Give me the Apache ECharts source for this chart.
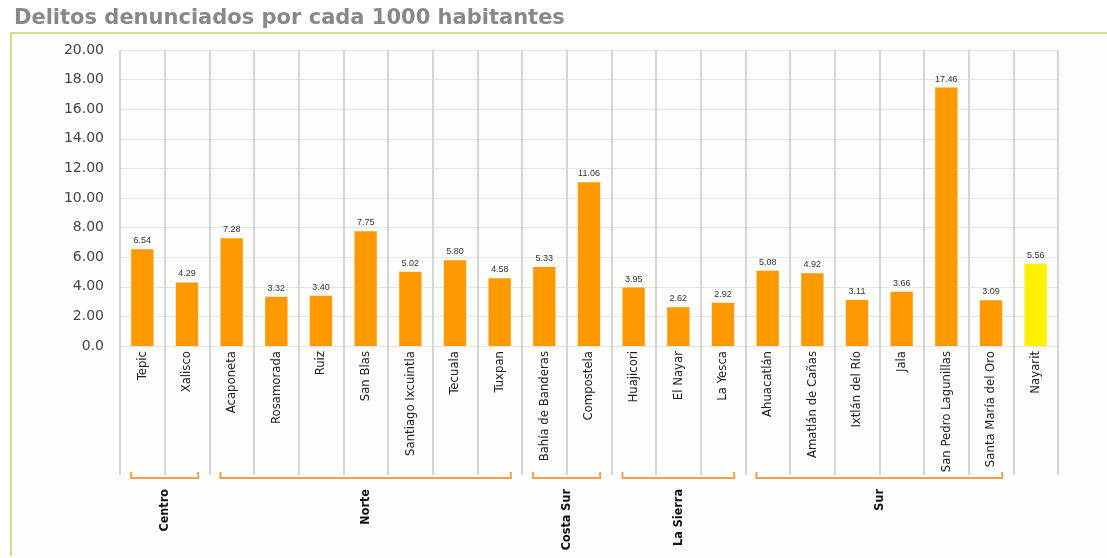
<!DOCTYPE html>
<html>
<head>
<meta charset="utf-8">
<script src="https://cdn.jsdelivr.net/npm/echarts@6/dist/echarts.min.js"></script>
<style>
html,body{margin:0;padding:0;background:#ffffff;}
#chart{width:1107px;height:558px;}
</style>
</head>
<body>
<div id="chart"></div>
<script>
const titleText = 'Delitos denunciados por cada 1000 habitantes';
const categories = ['Tepic','Xalisco','Acaponeta','Rosamorada','Ruiz','San Blas','Santiago Ixcuintla','Tecuala','Tuxpan','Bahía de Banderas','Compostela','Huajicori','El Nayar','La Yesca','Ahuacatlán','Amatlán de Cañas','Ixtlán del Río','Jala','San Pedro Lagunillas','Santa María del Oro','Nayarit'];
const values = [6.54,4.29,7.28,3.32,3.40,7.75,5.02,5.80,4.58,5.33,11.06,3.95,2.62,2.92,5.08,4.92,3.11,3.66,17.46,3.09,5.56];
const highlightCategory = 'Nayarit';
const groupNames = ['Centro','Norte','Costa Sur','La Sierra','Sur'];
const groupStart = [0,2,9,11,14];
const groupEnd = [1,8,10,13,19];

const narrow = "'Liberation Sans Narrow','DejaVu Sans Condensed','Roboto Condensed',sans-serif";
const chart = echarts.init(document.getElementById('chart'));

chart.setOption({
  backgroundColor: '#ffffff',
  animation: false,
  title: {
    text: titleText, left: 9, top: 3,
    textStyle: {fontSize: 21, fontWeight: 'bold', color: '#888888', fontFamily: "'DejaVu Sans', sans-serif"}
  },
  graphic: [
    {type: 'rect', silent: true, z: -10, shape: {x: 11, y: 34, width: 1096, height: 522}, style: {fill: '#fdfdfb'}},
    {type: 'line', silent: true, shape: {x1: 10, y1: 33, x2: 1107, y2: 33}, style: {stroke: '#cddf8c', lineWidth: 2}},
    {type: 'line', silent: true, shape: {x1: 11, y1: 33, x2: 11, y2: 556}, style: {stroke: '#cddf8c', lineWidth: 2}}
  ],
  grid: {left: 120, right: 49, top: 50, bottom: 212, containLabel: false},
  xAxis: {
    type: 'category',
    data: categories,
    axisLine: {show: false},
    axisTick: {show: true, interval: 0, length: 129, lineStyle: {color: '#c8c8c8', width: 1.5}},
    splitLine: {show: true, interval: 0, lineStyle: {color: '#c8c8c8', width: 1.5}},
    axisLabel: {interval: 0, rotate: 90, margin: 5, fontSize: 13, color: '#222', fontFamily: narrow}
  },
  yAxis: {
    type: 'value', min: 0, max: 20, interval: 2,
    axisLine: {show: false}, axisTick: {show: false},
    splitLine: {lineStyle: {color: '#e6e6e6', width: 1}},
    axisLabel: {
      margin: 16, fontSize: 14, color: '#444', fontFamily: "'DejaVu Sans', sans-serif",
      formatter: v => v === 0 ? '0.0' : v.toFixed(2)
    }
  },
  series: [
    {
      type: 'bar',
      barWidth: '50%',
      data: values.map((v, i) => ({
        value: v,
        itemStyle: {color: categories[i] === highlightCategory ? '#fff200' : '#ff9900'}
      })),
      label: {
        show: true, position: 'top', distance: 4, fontSize: 9, color: '#333',
        fontFamily: 'Arial, Liberation Sans, sans-serif',
        formatter: p => p.value.toFixed(2)
      }
    },
    {
      type: 'custom',
      clip: false,
      silent: true,
      data: groupNames.map((n, i) => [groupStart[i], groupEnd[i]]),
      renderItem: function (params, api) {
        const s = api.value(0), e = api.value(1);
        const band = api.size([1, 0])[0];
        const half = band * 0.25;
        const p0 = api.coord([s, 0]);
        const p1 = api.coord([e, 0]);
        const x0 = p0[0] - half, x1 = p1[0] + half;
        const yb = p0[1] + 132;
        const cx = (p0[0] + p1[0]) / 2;
        return {
          type: 'group',
          children: [
            {type: 'polyline', shape: {points: [[x0, yb - 6], [x0, yb], [x1, yb], [x1, yb - 6]]},
             style: {stroke: '#f0a050', lineWidth: 2, fill: null}},
            {type: 'text', x: cx, y: yb + 11, rotation: Math.PI / 2,
             style: {text: groupNames[params.dataIndex], align: 'right', verticalAlign: 'middle',
                     fontSize: 12.5, fontWeight: 'bold', fill: '#111', fontFamily: narrow}}
          ]
        };
      }
    }
  ]
});
</script>
</body>
</html>
